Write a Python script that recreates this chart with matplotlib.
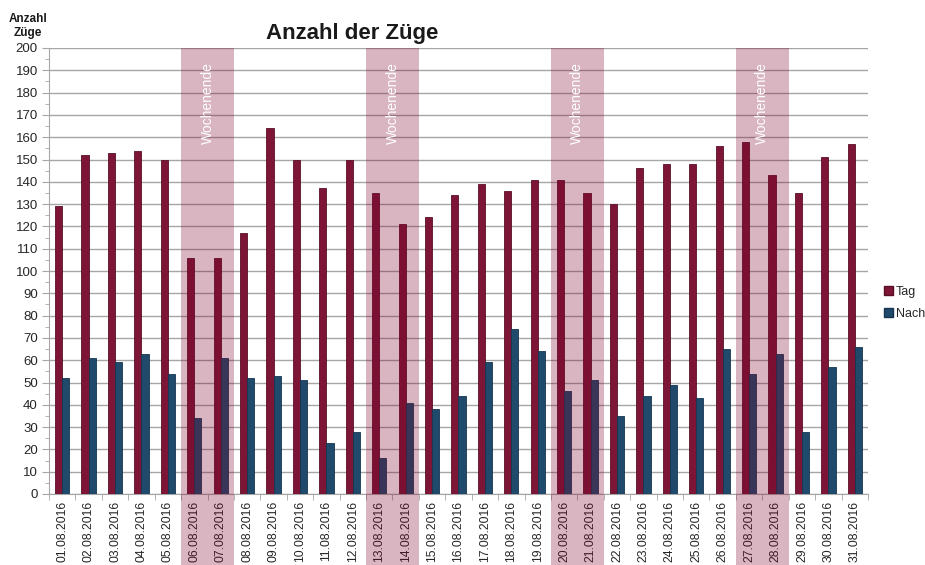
import matplotlib
matplotlib.use("Agg")
import matplotlib.pyplot as plt
from matplotlib.patches import Patch
import numpy as np

DATES = [f"{d:02d}.08.2016" for d in range(1, 32)]
TAG = [129, 152, 153, 154, 150, 106, 106, 117, 164, 150, 137, 150, 135, 121, 124,
       134, 139, 136, 141, 141, 135, 130, 146, 148, 148, 156, 158, 143, 135, 151, 157]
NACHT = [52, 61, 59, 63, 54, 34, 61, 52, 53, 51, 23, 28, 16, 41, 38,
         44, 59, 74, 64, 46, 51, 35, 44, 49, 43, 65, 54, 63, 28, 57, 66]
# index of first day of each weekend (Sat/Sun pairs)
WEEKENDS = [5, 12, 19, 26]

RED = "#7D1636"
BLUE = "#1F4A6B"
GRID = "#A6A6A6"
TEXT = "#262626"

plt.rcParams.update({
    "font.family": ["Liberation Sans", "DejaVu Sans"],
    "font.size": 9.5,
    "text.color": TEXT,
    "xtick.color": GRID, "ytick.color": GRID,
    "xtick.labelcolor": TEXT, "ytick.labelcolor": TEXT,
})

fig = plt.figure(figsize=(9.25, 5.65), dpi=100)
ax = fig.add_axes([49 / 925, 1 - 494 / 565, 819 / 925, 446 / 565])

x = np.arange(len(DATES))
w = 0.27
ax.bar(x - w / 2, TAG, w, color=RED, edgecolor="#5A0E26", linewidth=0.6, zorder=3)
ax.bar(x + w / 2, NACHT, w, color=BLUE, edgecolor="#153550", linewidth=0.6, zorder=3)

ax.set_xlim(-0.5, len(DATES) - 0.5)
ax.set_ylim(0, 200)
ax.set_yticks(np.arange(0, 201, 10))
ax.set_yticks(np.arange(0, 201, 5), minor=True)
ax.yaxis.grid(True, color=GRID, linewidth=1.0, zorder=1)
ax.set_axisbelow(True)

ax.set_xticks(x)
ax.set_xticklabels(DATES, rotation=90, fontsize=8.8)
ax.set_xticks(np.arange(-0.5, len(DATES), 1), minor=True)
ax.tick_params(axis="x", which="major", length=0, pad=5)
ax.tick_params(axis="x", which="minor", length=4, color=GRID)
ax.tick_params(axis="y", which="major", length=5, pad=3)
ax.tick_params(axis="y", which="minor", length=3)

for s in ("top", "right"):
    ax.spines[s].set_visible(False)
for s in ("left", "bottom"):
    ax.spines[s].set_color(GRID)

# weekend shading, reaching down through the date labels
for i in WEEKENDS:
    ax.axvspan(i - 0.5, i + 1.5, ymin=-0.16, ymax=1.0, color="#7C032D",
               alpha=0.29, lw=0, zorder=4, clip_on=False)
    ax.text(i + 0.5, 193.5, "Wochenende", rotation=90, ha="center", va="top",
            color="white", fontsize=10, zorder=5)

fig.text(352 / 925, 1 - 33 / 565, "Anzahl der Züge", ha="center", va="center",
         fontsize=16, fontweight="bold", color="#1A1A1A")
fig.text(28 / 925, 1 - 26 / 565, "Anzahl\nZüge", ha="center", va="center",
         fontsize=8.5, fontweight="bold", linespacing=1.25, color="#1A1A1A")

handles = [Patch(facecolor=RED, edgecolor="#5A0E26"),
           Patch(facecolor=BLUE, edgecolor="#153550")]
fig.legend(handles, ["Tag", "Nach"], loc="center left",
           bbox_to_anchor=(878 / 925, 1 - 303 / 565), frameon=False,
           handlelength=0.7, handleheight=0.7, handletextpad=0.25,
           labelspacing=0.8, fontsize=9, borderpad=0)

fig.savefig("out.png", dpi=100)
